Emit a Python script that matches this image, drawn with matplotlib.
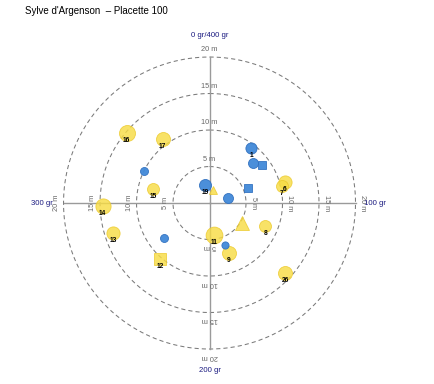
import numpy as np
import matplotlib
matplotlib.use("Agg")
import matplotlib.pyplot as plt

plt.rcParams['font.family'] = ['Liberation Sans', 'DejaVu Sans']
plt.rcParams['lines.scale_dashes'] = False

title = "Sylve d'Argenson  \u2013 Placette 100"

# Tree data: azimuth (grades, clockwise from north), distance (m), diameter (cm)
tree_labels = ['1', '', '', '', '19', '', '', '6', '7', '', '8', '11', '', '9', '26',
               '12', '', '13', '14', '15', '', '17', '16']
azimuth_gr = [41.3, 53.1, 60.0, 76.2, 384.4, 18.1, 83.9, 82.5, 85.3, 135.0, 124.9, 191.2, 177.4,
              176.2, 147.4, 245.9, 258.2, 280.9, 298.2, 315.2, 329.3, 359.7, 344.8]
distance_m = [9.41, 8.10, 8.93, 5.62, 2.54, 1.85, 2.57, 10.74, 10.16, 5.17, 8.27, 4.49, 6.13,
              7.31, 14.08, 10.27, 7.86, 13.79, 14.64, 7.92, 9.97, 10.83, 14.88]
diameter_cm = [28, 25, 20, 20, 30, 20, 25, 33, 30, 35, 30, 42, 18,
               35, 35, 33, 20, 33, 38, 30, 20, 35, 40]
species = ['B', 'B', 'B', 'B', 'B', 'Y', 'B', 'Y', 'Y', 'Y', 'Y', 'Y', 'B',
           'Y', 'Y', 'Y', 'B', 'Y', 'Y', 'Y', 'B', 'Y', 'Y']
shape = ['circle', 'circle', 'square', 'square', 'circle', 'triangle', 'circle', 'circle', 'circle',
         'triangle', 'circle', 'circle', 'circle', 'circle', 'circle', 'square', 'circle', 'circle',
         'circle', 'circle', 'circle', 'circle', 'circle']

ring_radii = [5, 10, 15, 20]
ring_labels = ['5 m', '10 m', '15 m', '20 m']
direction_gr = [0, 100, 200, 300]
direction_labels = ['0 gr/400 gr', '100 gr', '200 gr', '300 gr']

# ---- figure ----
DPI = 100
fig = plt.figure(figsize=(4.35, 3.84), dpi=DPI)
px2pt = 72.0 / DPI
ax = fig.add_axes([0.146, 0.0911, 0.6713, 0.7604], projection='polar')
ax.set_theta_zero_location('N')
ax.set_theta_direction(-1)
ax.set_ylim(0, 20)
ax.set_axis_off()

def gr2rad(g):
    return np.asarray(g, dtype=float) * np.pi / 200.0

# dashed rings
th = np.linspace(0, 2 * np.pi, 721)
for r in ring_radii:
    ax.plot(th, np.full_like(th, r), color='#7a7a7a', lw=0.75, ls=(0, (3.0, 2.2)),
            clip_on=False, zorder=1)

# axis cross
for g in direction_gr:
    t = gr2rad(g)
    ax.plot([t, t], [0, 20], color='#9a9a9a', lw=1.0, clip_on=False, zorder=1.5)

# ring labels along each axis
rots = {0: 0, 100: -90, 200: 180, 300: 90}
for g in direction_gr:
    for r, lab in zip(ring_radii, ring_labels):
        ax.text(gr2rad(g), r + 1.0, lab, color='#666666', fontsize=5.3,
                rotation=rots[g], rotation_mode='anchor', ha='center', va='center',
                zorder=3, clip_on=False)

# direction labels
ax.text(gr2rad(0), 22.9, direction_labels[0], color='#1a1a80', fontsize=5.6,
        ha='center', va='center', clip_on=False)
ax.text(gr2rad(100), 21.2, direction_labels[1], color='#1a1a80', fontsize=5.6,
        ha='left', va='center', clip_on=False)
ax.text(gr2rad(200), 23.0, direction_labels[2], color='#1a1a80', fontsize=5.6,
        ha='center', va='center', clip_on=False)
ax.text(gr2rad(300), 21.4, direction_labels[3], color='#1a1a80', fontsize=5.6,
        ha='right', va='center', clip_on=False)

# trees
face = {'Y': '#f7dc45', 'B': '#4189d8'}
edge = {'Y': '#ecc92a', 'B': '#2f6fbf'}
alpha = {'Y': 0.82, 'B': 0.95}
mk = {'circle': 'o', 'square': 's', 'triangle': '^'}
scale = {'circle': 0.4, 'square': 0.36, 'triangle': 0.4}  # px of marker per cm
zo = {'Y': 4, 'B': 5}

for lab, g, d, dbh, sp, shp in zip(tree_labels, azimuth_gr, distance_m, diameter_cm, species, shape):
    t = gr2rad(g)
    ms = dbh * scale[shp] * px2pt
    ax.plot([t], [d], marker=mk[shp], ms=ms, mfc=face[sp], mec=edge[sp], mew=0.6,
            alpha=alpha[sp], ls='none', zorder=zo[sp], clip_on=False)
    if lab:
        ax.annotate(lab, (t, d), xytext=(0, -7.5 * px2pt), textcoords='offset points',
                    ha='center', va='center', fontsize=4.8, fontweight='bold',
                    color='black', zorder=6)

fig.text(25 / 435, 1 - 11 / 384, title, fontsize=7, ha='left', va='center', color='black')

fig.savefig('out.png', dpi=DPI)
